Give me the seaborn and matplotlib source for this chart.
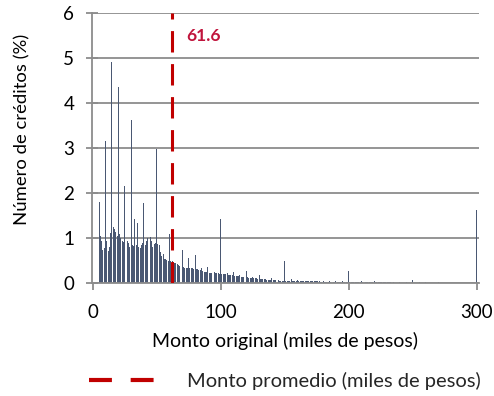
import numpy as np
import pandas as pd
import matplotlib
matplotlib.use("Agg")
import matplotlib.pyplot as plt
import seaborn as sns
from matplotlib.lines import Line2D

# ---- data ----
montos = list(range(1, 301))  # miles de pesos
pct = [
    0.00, 0.00, 0.00, 0.00, 1.80, 1.05, 0.95, 0.75, 0.78, 3.17,
    0.95, 0.72, 0.80, 1.12, 4.92, 1.25, 1.20, 1.15, 1.05, 4.37,
    1.10, 1.00, 0.95, 0.92, 2.16, 0.85, 0.95, 0.90, 0.80, 3.64,
    0.85, 0.82, 1.43, 0.85, 1.35, 0.80, 0.78, 0.85, 0.90, 1.78,
    0.85, 0.95, 1.00, 0.80, 1.02, 0.93, 0.81, 0.88, 0.90, 2.99,
    0.88, 0.85, 0.70, 0.60, 0.65, 0.55, 0.53, 0.52, 0.50, 1.09,
    0.50, 0.49, 0.48, 0.46, 0.45, 0.42, 0.40, 0.39, 0.38, 0.75,
    0.36, 0.35, 0.34, 0.34, 0.57, 0.34, 0.33, 0.33, 0.32, 0.63,
    0.31, 0.31, 0.30, 0.29, 0.33, 0.27, 0.26, 0.26, 0.25, 0.37,
    0.24, 0.24, 0.23, 0.23, 0.26, 0.22, 0.22, 0.22, 0.21, 1.43,
    0.21, 0.20, 0.20, 0.20, 0.22, 0.19, 0.19, 0.18, 0.18, 0.26,
    0.17, 0.16, 0.16, 0.16, 0.18, 0.15, 0.15, 0.15, 0.14, 0.27,
    0.13, 0.12, 0.12, 0.12, 0.15, 0.11, 0.11, 0.11, 0.10, 0.18,
    0.10, 0.09, 0.09, 0.09, 0.10, 0.08, 0.08, 0.08, 0.08, 0.12,
    0.07, 0.07, 0.07, 0.07, 0.08, 0.06, 0.06, 0.06, 0.06, 0.50,
    0.06, 0.05, 0.05, 0.05, 0.09, 0.05, 0.05, 0.05, 0.05, 0.08,
    0.05, 0.05, 0.05, 0.04, 0.06, 0.04, 0.04, 0.04, 0.04, 0.06,
    0.04, 0.04, 0.04, 0.04, 0.05, 0.04, 0.04, 0.03, 0.03, 0.06,
    0.03, 0.03, 0.03, 0.03, 0.04, 0.03, 0.03, 0.03, 0.03, 0.05,
    0.03, 0.03, 0.03, 0.03, 0.04, 0.03, 0.03, 0.02, 0.02, 0.28,
    0.02, 0.02, 0.02, 0.02, 0.03, 0.02, 0.02, 0.02, 0.02, 0.04,
    0.02, 0.02, 0.02, 0.02, 0.03, 0.02, 0.02, 0.02, 0.02, 0.04,
    0.02, 0.02, 0.02, 0.02, 0.03, 0.02, 0.02, 0.02, 0.02, 0.03,
    0.02, 0.02, 0.02, 0.01, 0.02, 0.01, 0.01, 0.01, 0.01, 0.03,
    0.01, 0.01, 0.01, 0.01, 0.02, 0.01, 0.01, 0.01, 0.01, 0.07,
    0.01, 0.01, 0.01, 0.01, 0.02, 0.01, 0.01, 0.01, 0.01, 0.02,
    0.01, 0.01, 0.01, 0.01, 0.01, 0.01, 0.01, 0.01, 0.01, 0.02,
    0.01, 0.00, 0.01, 0.00, 0.01, 0.00, 0.01, 0.00, 0.01, 0.01,
    0.00, 0.01, 0.00, 0.00, 0.01, 0.00, 0.00, 0.01, 0.00, 0.00,
    0.00, 0.00, 0.00, 0.00, 0.00, 0.00, 0.00, 0.00, 0.00, 1.62,
]
promedio = 61.6
promedio_label = "61.6"
x_ticks = [0, 100, 200, 300]
y_ticks = [0, 1, 2, 3, 4, 5, 6]
x_title = "Monto original (miles de pesos)"
y_title = "Número de créditos (%)"
legend_label = "Monto promedio (miles de pesos)"

df = pd.DataFrame({"monto": montos, "pct": pct})

# ---- style ----
sns.set_theme(style="white")
plt.rcParams["font.family"] = ["Lato", "DejaVu Sans"]
grid_col = "#8C8C8C"
bar_col = "#4A5873"
red = "#C00000"

fig = plt.figure(figsize=(4.94, 3.96), dpi=100)
ax = fig.add_axes([0.1856, 0.2846, 0.970 - 0.1856, 0.966 - 0.2846])

sns.barplot(data=df, x="monto", y="pct", native_scale=True, color=bar_col,
            saturation=1, width=0.75, linewidth=0, ax=ax, zorder=2)

ax.axvline(promedio, color=red, lw=2.2, linestyle=(0, (7.0, 3.8)), zorder=3)
ax.text(promedio + 11.3, 5.49, promedio_label, color="#C0143C",
        fontsize=12.5, fontweight="bold", va="center", ha="left")

ax.set_xlim(-0.8, 302)
ax.set_ylim(0, 6)
ax.set_xticks(x_ticks)
ax.set_yticks(y_ticks)
ax.set_xticklabels([str(t) for t in x_ticks])
ax.set_yticklabels([str(t) for t in y_ticks])

ax.set_axisbelow(True)
ax.yaxis.grid(True, color=grid_col, lw=1.3)
ax.xaxis.grid(False)
for s in ["top", "right"]:
    ax.spines[s].set_visible(False)
for s in ["left", "bottom"]:
    ax.spines[s].set_color(grid_col)
    ax.spines[s].set_linewidth(1.3)

ax.tick_params(axis="y", direction="inout", length=9, width=1.3, color=grid_col,
               labelsize=13.5, pad=8, left=True, labelcolor="black")
ax.tick_params(axis="x", direction="out", length=5, width=1.3, color=grid_col,
               labelsize=13.5, pad=10, bottom=True, labelcolor="black")

ax.set_xlabel(x_title, fontsize=14, color="black", labelpad=8)
ax.set_ylabel(y_title, fontsize=13.3, color="black")
ax.yaxis.set_label_coords(-0.157, 0.572)

handle = Line2D([], [], color=red, lw=3, linestyle=(0, (5.5, 4.5)))
fig.legend([handle], [legend_label], loc="center left",
           bbox_to_anchor=(89 / 494, 1 - 381 / 396), frameon=False,
           fontsize=14.5, handlelength=3.3, handletextpad=1.55,
           borderpad=0, borderaxespad=0)

fig.savefig("out.png", dpi=100)
